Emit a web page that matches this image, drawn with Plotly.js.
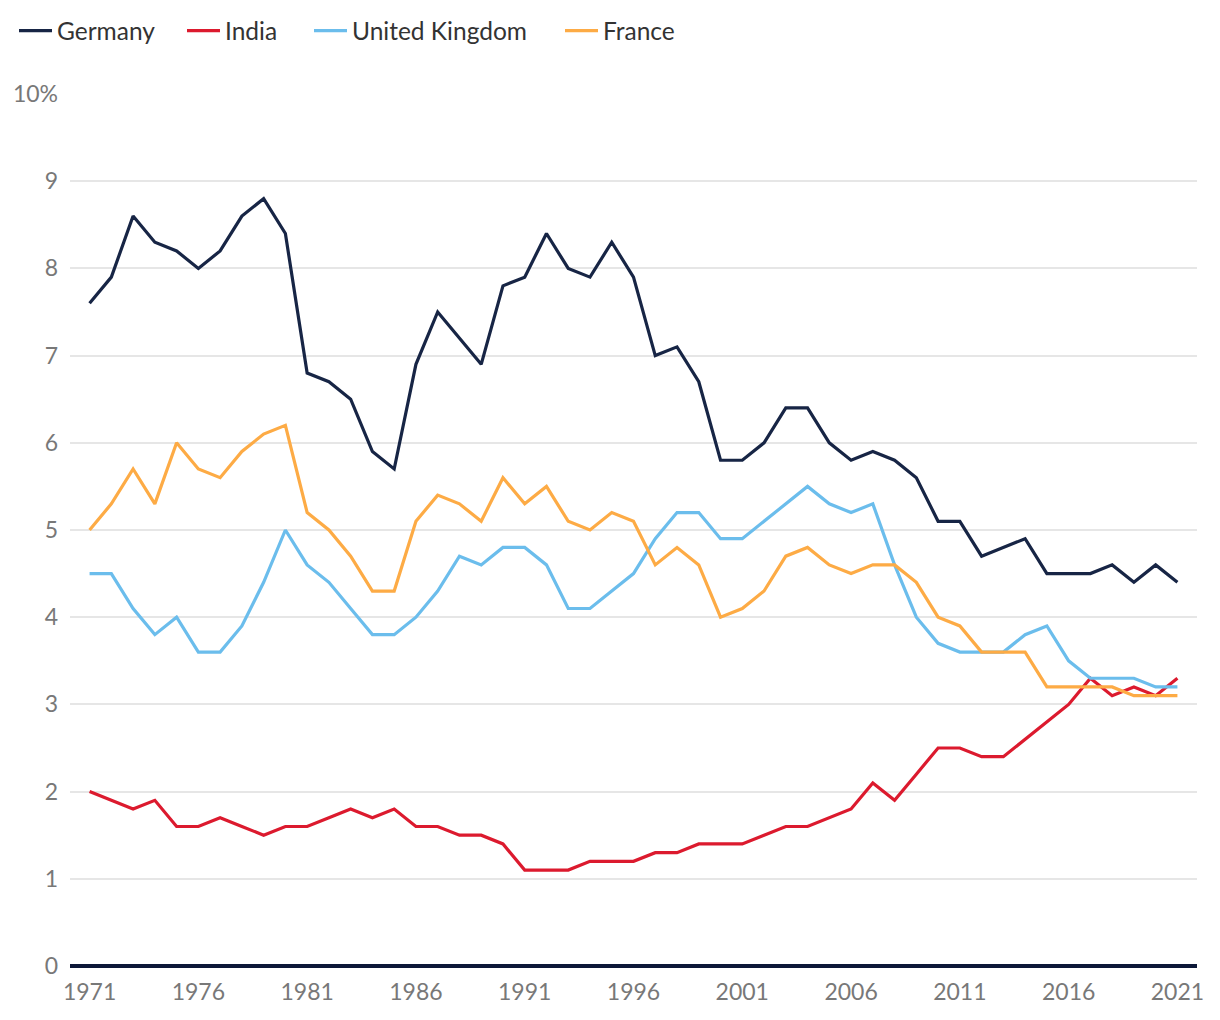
<!DOCTYPE html>
<html>
<head>
<meta charset="utf-8">
<script src="https://cdn.plot.ly/plotly-3.0.1.min.js"></script>
<style>html,body{margin:0;padding:0;background:#fff;}#chart{width:1220px;height:1020px;}</style>
</head>
<body>
<div id="chart"></div>
<script>
const years = [];
for (let y = 1971; y <= 2021; y++) years.push(y);

const germany = [7.6,7.9,8.6,8.3,8.2,8.0,8.2,8.6,8.8,8.4,
  6.8,6.7,6.5,5.9,5.7,6.9,7.5,7.2,6.9,7.8,
  7.9,8.4,8.0,7.9,8.3,7.9,7.0,7.1,6.7,5.8,
  5.8,6.0,6.4,6.4,6.0,5.8,5.9,5.8,5.6,5.1,
  5.1,4.7,4.8,4.9,4.5,4.5,4.5,4.6,4.4,4.6,4.4];
const india = [2.0,1.9,1.8,1.9,1.6,1.6,1.7,1.6,1.5,1.6,
  1.6,1.7,1.8,1.7,1.8,1.6,1.6,1.5,1.5,1.4,
  1.1,1.1,1.1,1.2,1.2,1.2,1.3,1.3,1.4,1.4,
  1.4,1.5,1.6,1.6,1.7,1.8,2.1,1.9,2.2,2.5,
  2.5,2.4,2.4,2.6,2.8,3.0,3.3,3.1,3.2,3.1,3.3];
const uk = [4.5,4.5,4.1,3.8,4.0,3.6,3.6,3.9,4.4,5.0,
  4.6,4.4,4.1,3.8,3.8,4.0,4.3,4.7,4.6,4.8,
  4.8,4.6,4.1,4.1,4.3,4.5,4.9,5.2,5.2,4.9,
  4.9,5.1,5.3,5.5,5.3,5.2,5.3,4.6,4.0,3.7,
  3.6,3.6,3.6,3.8,3.9,3.5,3.3,3.3,3.3,3.2,3.2];
const france = [5.0,5.3,5.7,5.3,6.0,5.7,5.6,5.9,6.1,6.2,
  5.2,5.0,4.7,4.3,4.3,5.1,5.4,5.3,5.1,5.6,
  5.3,5.5,5.1,5.0,5.2,5.1,4.6,4.8,4.6,4.0,
  4.1,4.3,4.7,4.8,4.6,4.5,4.6,4.6,4.4,4.0,
  3.9,3.6,3.6,3.6,3.2,3.2,3.2,3.2,3.1,3.1,3.1];

const xTicks = [1971,1976,1981,1986,1991,1996,2001,2006,2011,2016,2021];
const yTicks = [0,1,2,3,4,5,6,7,8,9,10];
const yTickText = ['0','1','2','3','4','5','6','7','8','9','10%'];

const seriesNames = ['Germany','India','United Kingdom','France'];
const seriesData = [germany, india, uk, france];
const seriesColors = ['#172545','#dc1a2e','#6bbdec','#fdab45'];

const FONT = 'Lato, "Source Sans Pro", "Noto Sans", sans-serif';
const W = 1220;

// one legend per series so each entry can sit where the reference puts it
const legendIds = ['legend','legend2','legend3','legend4'];
const legendLeftPx = [14, 182, 309, 560];

const traces = seriesNames.map((n, i) => ({
  type: 'scatter', mode: 'lines', name: n,
  x: years, y: seriesData[i],
  legend: legendIds[i],
  line: {color: seriesColors[i], width: 3.2, shape: 'linear'},
  hoverinfo: 'x+y+name'
}));

const layout = {
  width: 1220, height: 1020,
  margin: {l: 70, r: 23, t: 94, b: 54},
  paper_bgcolor: '#ffffff', plot_bgcolor: '#ffffff',
  font: {family: FONT, color: '#787878', size: 23},
  showlegend: true,
  xaxis: {
    range: [1970.1, 2021.9], tickvals: xTicks, ticktext: xTicks.map(String),
    showgrid: false, zeroline: false, showline: false, ticks: '',
    ticklabelstandoff: 10,
    tickfont: {family: FONT, size: 23, color: '#787878'}
  },
  yaxis: {
    range: [0, 10], tickvals: yTicks, ticktext: yTickText,
    showgrid: true, gridcolor: '#e6e6e6', gridwidth: 2,
    zeroline: true, zerolinecolor: '#0d1838', zerolinewidth: 4,
    showline: false, ticks: '', ticklabelstandoff: 11,
    tickfont: {family: FONT, size: 23, color: '#787878'}
  }
};

legendIds.forEach((id, i) => {
  layout[id] = {
    orientation: 'h', xref: 'container', yref: 'container',
    x: legendLeftPx[i] / W, xanchor: 'left', y: 0.992, yanchor: 'top',
    font: {family: FONT, size: 24.5, color: '#333333'},
    itemwidth: 33, bgcolor: 'rgba(0,0,0,0)'
  };
});

Plotly.newPlot('chart', traces, layout, {displayModeBar: false, staticPlot: true});
</script>
</body>
</html>
